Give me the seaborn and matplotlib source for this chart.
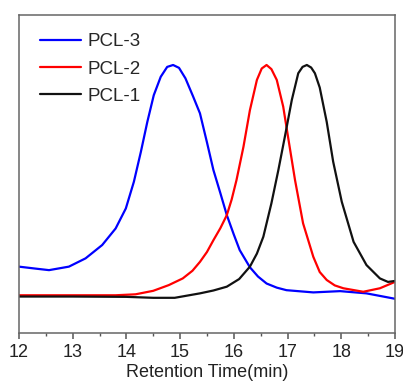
import matplotlib
matplotlib.use("Agg")

import numpy as np
import pandas as pd
import matplotlib.pyplot as plt
import seaborn as sns

# GPC traces (normalised detector signal)
t_pcl3 = [12.0, 12.3, 12.56, 12.93, 13.24, 13.55, 13.8, 13.99, 14.14, 14.27, 14.39,
          14.51, 14.64, 14.76, 14.87, 14.98, 15.1, 15.24, 15.37, 15.5, 15.62, 15.75,
          15.87, 16.0, 16.11, 16.3, 16.45, 16.61, 16.8, 16.98, 17.48, 17.98, 18.47, 19.0]
s_pcl3 = [0.209, 0.203, 0.198, 0.209, 0.235, 0.277, 0.329, 0.392, 0.476, 0.570, 0.664,
          0.748, 0.806, 0.837, 0.843, 0.834, 0.801, 0.745, 0.691, 0.600, 0.513, 0.440,
          0.371, 0.310, 0.261, 0.207, 0.178, 0.156, 0.143, 0.135, 0.128, 0.132, 0.125, 0.108]

t_pcl2 = [12.0, 13.0, 13.8, 14.17, 14.5, 14.79, 15.05, 15.23, 15.37, 15.5, 15.62,
          15.75, 15.87, 15.96, 16.05, 16.18, 16.3, 16.43, 16.52, 16.61, 16.7, 16.8,
          16.92, 17.01, 17.14, 17.29, 17.48, 17.6, 17.73, 17.88, 18.04, 18.41, 18.72, 19.0]
s_pcl2 = [0.119, 0.119, 0.119, 0.122, 0.133, 0.151, 0.172, 0.196, 0.224, 0.255, 0.292,
          0.330, 0.371, 0.420, 0.481, 0.586, 0.701, 0.796, 0.832, 0.843, 0.830, 0.796,
          0.712, 0.617, 0.481, 0.345, 0.240, 0.192, 0.167, 0.150, 0.141, 0.130, 0.141, 0.161]

t_pcl1 = [12.0, 13.0, 14.0, 14.5, 14.9, 15.37, 15.62, 15.87, 16.1, 16.3, 16.43, 16.55,
          16.7, 16.83, 16.95, 17.08, 17.2, 17.28, 17.36, 17.44, 17.51, 17.6, 17.73,
          17.85, 18.01, 18.23, 18.47, 18.72, 18.87, 19.0]
s_pcl1 = [0.115, 0.115, 0.114, 0.111, 0.111, 0.125, 0.134, 0.146, 0.170, 0.209, 0.250,
          0.303, 0.408, 0.513, 0.617, 0.733, 0.817, 0.837, 0.843, 0.835, 0.817, 0.772,
          0.664, 0.539, 0.413, 0.287, 0.214, 0.172, 0.161, 0.164]

names = ["PCL-3", "PCL-2", "PCL-1"]
colors = ["#0000ff", "#ff0000", "#111111"]
x_ticks = [12, 13, 14, 15, 16, 17, 18, 19]

frames = []
for name, t, s in zip(names, [t_pcl3, t_pcl2, t_pcl1], [s_pcl3, s_pcl2, s_pcl1]):
    frames.append(pd.DataFrame({"time": t, "signal": s, "sample": name}))
df = pd.concat(frames, ignore_index=True)

sns.set_style("white")
plt.rcParams["font.family"] = ["Liberation Sans", "DejaVu Sans"]

fig = plt.figure(figsize=(4.03, 3.86), dpi=100)
ax = fig.add_axes([0.047, 0.137, 0.933, 0.824])

sns.lineplot(data=df, x="time", y="signal", hue="sample", hue_order=names,
             palette=dict(zip(names, colors)), sort=False, estimator=None,
             lw=1.6, ax=ax)

ax.set_xlim(12, 19)
ax.set_ylim(0, 1)
ax.set_xticks(x_ticks)
ax.xaxis.set_minor_locator(plt.MultipleLocator(0.5))
ax.set_yticks([])
ax.set_xlabel("Retention Time(min)", fontsize=13, color="#222222", labelpad=2)
ax.set_ylabel("")
ax.tick_params(axis="x", which="major", direction="out", length=4, width=1.1,
               color="#555555", labelsize=13, labelcolor="#222222", pad=4, bottom=True)
ax.tick_params(axis="x", which="minor", direction="out", length=2.5, width=1.0,
               color="#555555", bottom=True)
for sp in ax.spines.values():
    sp.set_color("#666666")
    sp.set_linewidth(1.1)

ax.legend(frameon=False, loc="upper left", fontsize=13.5, handlelength=2.2,
          handletextpad=0.35, labelspacing=0.55, borderaxespad=0.3,
          bbox_to_anchor=(0.02, 0.985))

fig.savefig("out.png", dpi=100)
